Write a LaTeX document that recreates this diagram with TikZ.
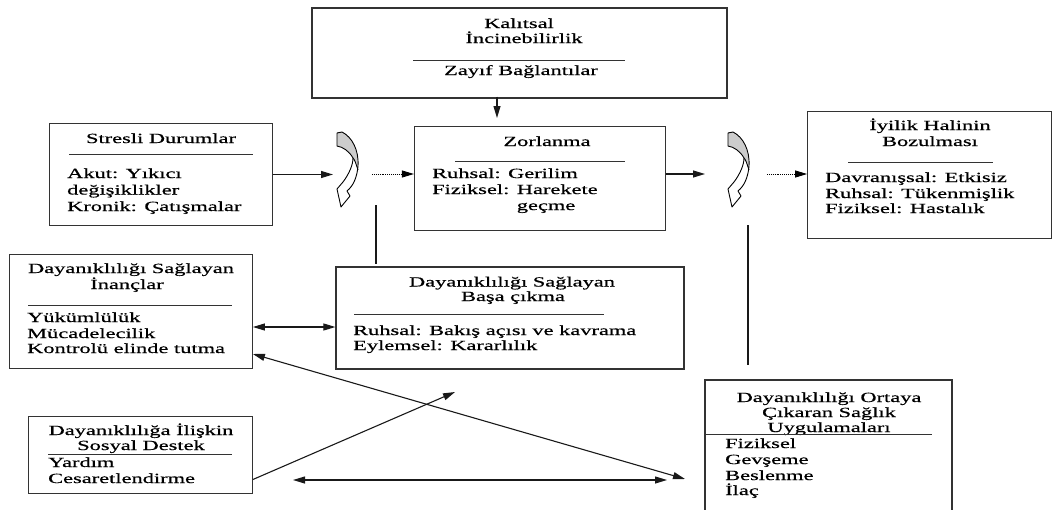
\documentclass[tikz,border=0pt]{standalone}
\usepackage{fontspec}
\setmainfont{Liberation Serif}[FakeStretch=1.6,FakeBold=0.6]
\usetikzlibrary{arrows.meta}
\begin{document}
\begin{tikzpicture}[x=1pt,y=-1pt,
  box/.style={draw=black!80, line width=1.2pt, inner sep=0pt},
  lbl/.style={font=\fontsize{14}{16}\selectfont, inner sep=0pt, text=black},
  tl/.style={lbl, anchor=base},
  ll/.style={lbl, anchor=base west},
  sep/.style={draw=black!80, line width=1pt},
  conn/.style={line width=1.1pt, draw=black!90},
  arr/.style={conn, -{Triangle[length=12pt,width=7pt]}},
  darr/.style={conn, {Triangle[length=12pt,width=7pt]}-{Triangle[length=12pt,width=7pt]}},
  dotarr/.style={line width=0.9pt, densely dotted, -{Triangle[length=12pt,width=7pt]}},
  curlshape/.pic={
    \fill[gray!40] (0,1) -- (5,0) .. controls (15,5) and (22,18) .. (21,38)
       .. controls (19,32) and (18,28) .. (16,26) .. controls (12,19) and (6,15) .. (0,14) -- cycle;
    \draw[line width=0.9pt, line join=round] (0,1) -- (5,0) .. controls (15,5) and (22,18) .. (21,34)
       .. controls (20,46) and (16,54) .. (10,59) -- (13,64) -- (4,75) -- (0,57) -- (6,50)
       .. controls (12,42) and (16,33) .. (16,26) .. controls (12,19) and (6,15) .. (0,14) -- cycle;
    \draw[line width=0.9pt] (16,26) .. controls (18,28) and (19,32) .. (21,38);
  }
]
\useasboundingbox (0,0) rectangle (1055,509);

% ---------- boxes ----------
\node[box, minimum width=415pt, minimum height=90pt] (kal) at (519.5,53) {};
\node[box, minimum width=251pt, minimum height=104pt] (zor) at (540,178.7) {};
\node[box, minimum width=223pt, minimum height=102pt] (str) at (160.8,174.5) {};
\node[box, minimum width=244pt, minimum height=127pt] (ily) at (929.7,174.7) {};
\node[box, minimum width=243pt, minimum height=114pt] (inc) at (130.8,311.2) {};
\node[box, minimum width=348pt, minimum height=102pt] (basa) at (510,318) {};
\node[box, minimum width=224pt, minimum height=76.6pt] (sos) at (140.3,455) {};
\node[box, minimum width=247pt, minimum height=140pt] (ort) at (828.5,450) {};

% ---------- Kalitsal ----------
\node[tl] (kal-t1) at (519,28) {Kalıtsal};
\node[tl] (kal-t2) at (524,43) {İncinebilirlik};
\draw[sep] (413,60) -- (625,60);
\node[tl] (kal-t3) at (521,75) {Zayıf Bağlantılar};

% ---------- Zorlanma ----------
\node[tl] (zor-t1) at (547,146) {Zorlanma};
\draw[sep] (455,161) -- (625,161);
\node[ll] (zor-l1) at (432,178) {Ruhsal: Gerilim};
\node[ll] (zor-l2) at (432,194) {Fiziksel: Harekete};
\node[ll] (zor-l3) at (432,210) {\phantom{Fiziksel: }geçme};

% ---------- Stresli ----------
\node[tl] (str-t1) at (161,143) {Stresli Durumlar};
\draw[sep] (69,154) -- (253,154);
\node[ll] (str-l1) at (67,178) {Akut: Yıkıcı};
\node[ll] (str-l2) at (67,194.5) {değişiklikler};
\node[ll] (str-l3) at (67,211) {Kronik: Çatışmalar};

% ---------- Iyilik ----------
\node[tl] (ily-t1) at (930,130) {İyilik Halinin};
\node[tl] (ily-t2) at (930,146) {Bozulması};
\draw[sep] (848,162) -- (993,162);
\node[ll] (ily-l1) at (825,182) {Davranışsal: Etkisiz};
\node[ll] (ily-l2) at (825,198) {Ruhsal: Tükenmişlik};
\node[ll] (ily-l3) at (825,213) {Fiziksel: Hastalık};

% ---------- Inanclar ----------
\node[tl] (inc-t1) at (131,273) {Dayanıklılığı Sağlayan};
\node[tl] (inc-t2) at (127,289) {İnançlar};
\draw[sep] (28,305) -- (232,305);
\node[ll] (inc-l1) at (27,322) {Yükümlülük};
\node[ll] (inc-l2) at (27,338) {Mücadelecilik};
\node[ll] (inc-l3) at (27,353) {Kontrolü elinde tutma};

% ---------- Basa cikma ----------
\node[tl] (basa-t1) at (512,286.5) {Dayanıklılığı Sağlayan};
\node[tl] (basa-t2) at (513,301) {Başa çıkma};
\draw[sep] (354,314) -- (604,314);
\node[ll] (basa-l1) at (353,335) {Ruhsal: Bakış açısı ve kavrama};
\node[ll] (basa-l2) at (353,350) {Eylemsel: Kararlılık};

% ---------- Sosyal destek ----------
\node[tl] (sos-t1) at (141,435) {Dayanıklılığa İlişkin};
\node[tl] (sos-t2) at (141,450) {Sosyal Destek};
\draw[sep] (48,454) -- (232,454);
\node[ll] (sos-l1) at (48,467) {Yardım};
\node[ll] (sos-l2) at (48,483) {Cesaretlendirme};

% ---------- Ortaya cikaran ----------
\node[tl] (ort-t1) at (829,402) {Dayanıklılığı Ortaya};
\node[tl] (ort-t2) at (829,417) {Çıkaran Sağlık};
\node[tl] (ort-t3) at (829,432) {Uygulamaları};
\draw[sep] (705,434) -- (932,434);
\node[ll] (ort-l1) at (725,448) {Fiziksel};
\node[ll] (ort-l2) at (725,464) {Gevşeme};
\node[ll] (ort-l3) at (725,480) {Beslenme};
\node[ll] (ort-l4) at (725,495) {İlaç};

% ---------- curled arrows ----------
\pic at (337,132) {curlshape};
\pic at (728,132) {curlshape};

% ---------- connectors ----------
\coordinate (kB) at (497,118);
\draw[arr] ([yshift=2pt]kal.south -| kB) -- (kB);

\coordinate (c1in) at (333,174.5);
\draw[arr] (str.east) -- (c1in);
\coordinate (c1out) at (372,174);
\draw[dotarr] (c1out) -- (c1out -| zor.west);
\coordinate (c1dn) at (376,205);
\draw[conn] (c1dn) -- ([yshift=2pt]c1dn |- basa.north);

\coordinate (c2in) at (705,174);
\draw[arr] (c2in -| zor.east) -- (c2in);
\coordinate (c2out) at (767,174);
\draw[dotarr] (c2out) -- (c2out -| ily.west);
\coordinate (c2dn) at (748,225);
\coordinate (c2lo) at (748,365);
\draw[conn] (c2dn) -- (c2lo);

\coordinate (yH) at (300,327);
\draw[darr] (yH -| inc.east) -- (yH -| basa.west);

\coordinate (yI) at (0,354);
\coordinate (xI) at (685,479);
\draw[darr] (yI -| inc.east) -- (xI);

\coordinate (yJ) at (0,479.5);
\coordinate (xJ) at (455,392);
\draw[arr] (yJ -| sos.east) -- (xJ);

\coordinate (hK1) at (293,480);
\coordinate (hK2) at (667,480);
\draw[darr] (hK1) -- (hK2);
\end{tikzpicture}
\end{document}
